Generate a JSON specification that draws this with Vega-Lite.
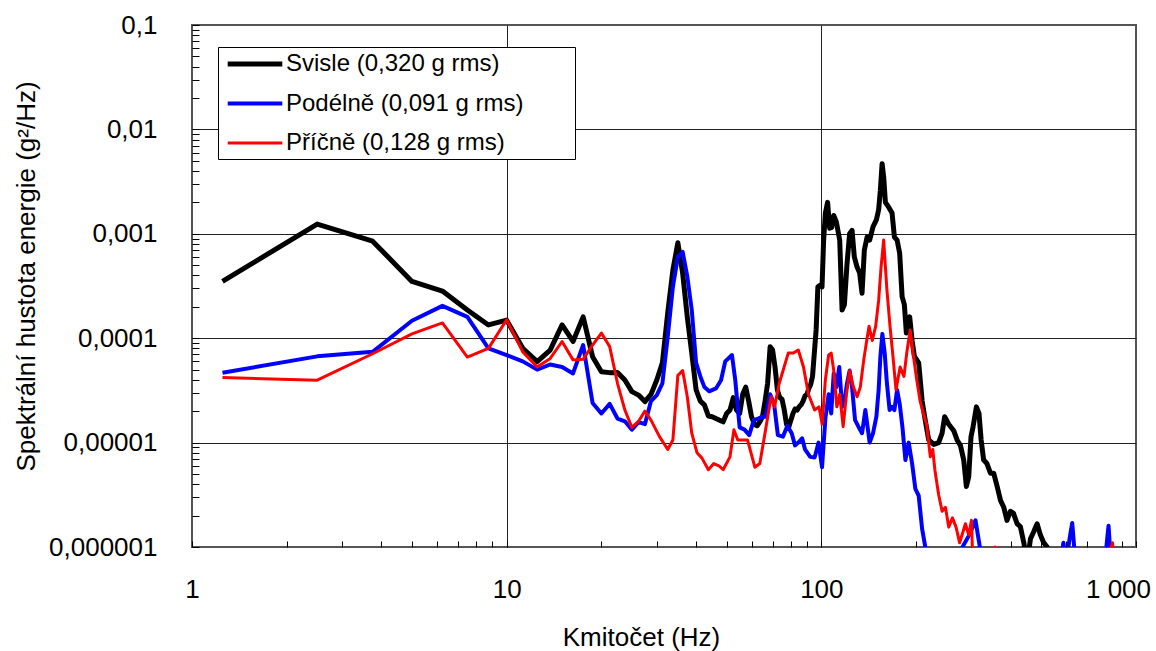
{
"$schema": "https://vega.github.io/schema/vega-lite/v6.json",
"width": 944, "height": 522,
"autosize": {"type": "none"},
"padding": {"left": 192, "top": 25, "right": 20, "bottom": 104},
"background": "white",
"config": {"font": "Liberation Sans", "view": {"stroke": "#555", "strokeWidth": 2}},
"data": {"values": [
{"s":"Svisle (0,320 g rms)","f":1.25,"v":3.5e-4},{"s":"Svisle (0,320 g rms)","f":2.5,"v":1.24e-3},{"s":"Svisle (0,320 g rms)","f":3.75,"v":8.5e-4},{"s":"Svisle (0,320 g rms)","f":5,"v":3.5e-4},{"s":"Svisle (0,320 g rms)","f":6.25,"v":2.83e-4},{"s":"Svisle (0,320 g rms)","f":7.5,"v":1.86e-4},{"s":"Svisle (0,320 g rms)","f":8.75,"v":1.34e-4},{"s":"Svisle (0,320 g rms)","f":10,"v":1.49e-4},{"s":"Svisle (0,320 g rms)","f":11.25,"v":8.0e-5},{"s":"Svisle (0,320 g rms)","f":12.5,"v":5.96e-5},{"s":"Svisle (0,320 g rms)","f":13.75,"v":7.7e-5},{"s":"Svisle (0,320 g rms)","f":15,"v":1.34e-4},{"s":"Svisle (0,320 g rms)","f":16.25,"v":9.3e-5},{"s":"Svisle (0,320 g rms)","f":17.5,"v":1.6e-4},{"s":"Svisle (0,320 g rms)","f":18.75,"v":6.65e-5},{"s":"Svisle (0,320 g rms)","f":20,"v":4.78e-5},{"s":"Svisle (0,320 g rms)","f":21.25,"v":4.68e-5},{"s":"Svisle (0,320 g rms)","f":22.5,"v":4.7e-5},{"s":"Svisle (0,320 g rms)","f":23.75,"v":3.98e-5},{"s":"Svisle (0,320 g rms)","f":25,"v":3.08e-5},{"s":"Svisle (0,320 g rms)","f":26.25,"v":2.85e-5},{"s":"Svisle (0,320 g rms)","f":27.5,"v":2.47e-5},{"s":"Svisle (0,320 g rms)","f":28.75,"v":2.9e-5},{"s":"Svisle (0,320 g rms)","f":30,"v":3.98e-5},{"s":"Svisle (0,320 g rms)","f":31.25,"v":5.8e-5},{"s":"Svisle (0,320 g rms)","f":32.5,"v":1.75e-4},{"s":"Svisle (0,320 g rms)","f":33.75,"v":4.5e-4},{"s":"Svisle (0,320 g rms)","f":35,"v":8.2e-4},{"s":"Svisle (0,320 g rms)","f":36.25,"v":4.2e-4},{"s":"Svisle (0,320 g rms)","f":37.5,"v":1.6e-4},{"s":"Svisle (0,320 g rms)","f":38.75,"v":7.2e-5},{"s":"Svisle (0,320 g rms)","f":40,"v":3.2e-5},{"s":"Svisle (0,320 g rms)","f":41.25,"v":2.5e-5},{"s":"Svisle (0,320 g rms)","f":42.5,"v":2.3e-5},{"s":"Svisle (0,320 g rms)","f":43.75,"v":1.8e-5},{"s":"Svisle (0,320 g rms)","f":45,"v":1.77e-5},{"s":"Svisle (0,320 g rms)","f":46.25,"v":1.7e-5},{"s":"Svisle (0,320 g rms)","f":47.5,"v":1.64e-5},{"s":"Svisle (0,320 g rms)","f":48.75,"v":1.58e-5},{"s":"Svisle (0,320 g rms)","f":50,"v":1.9e-5},{"s":"Svisle (0,320 g rms)","f":51.25,"v":2.05e-5},{"s":"Svisle (0,320 g rms)","f":52.5,"v":2.7e-5},{"s":"Svisle (0,320 g rms)","f":53.75,"v":2.05e-5},{"s":"Svisle (0,320 g rms)","f":55,"v":1.9e-5},{"s":"Svisle (0,320 g rms)","f":56.25,"v":2.9e-5},{"s":"Svisle (0,320 g rms)","f":57.5,"v":3.4e-5},{"s":"Svisle (0,320 g rms)","f":58.75,"v":2.5e-5},{"s":"Svisle (0,320 g rms)","f":60,"v":1.77e-5},{"s":"Svisle (0,320 g rms)","f":61.25,"v":1.5e-5},{"s":"Svisle (0,320 g rms)","f":62.5,"v":1.45e-5},{"s":"Svisle (0,320 g rms)","f":63.75,"v":1.58e-5},{"s":"Svisle (0,320 g rms)","f":65,"v":1.77e-5},{"s":"Svisle (0,320 g rms)","f":66.25,"v":2.5e-5},{"s":"Svisle (0,320 g rms)","f":67.5,"v":3.7e-5},{"s":"Svisle (0,320 g rms)","f":68.75,"v":8.3e-5},{"s":"Svisle (0,320 g rms)","f":70,"v":7.7e-5},{"s":"Svisle (0,320 g rms)","f":71.25,"v":5.3e-5},{"s":"Svisle (0,320 g rms)","f":72.5,"v":3.2e-5},{"s":"Svisle (0,320 g rms)","f":73.75,"v":2.7e-5},{"s":"Svisle (0,320 g rms)","f":75,"v":2.6e-5},{"s":"Svisle (0,320 g rms)","f":76.25,"v":2.05e-5},{"s":"Svisle (0,320 g rms)","f":77.5,"v":1.5e-5},{"s":"Svisle (0,320 g rms)","f":78.75,"v":1.4e-5},{"s":"Svisle (0,320 g rms)","f":80,"v":1.64e-5},{"s":"Svisle (0,320 g rms)","f":81.25,"v":1.9e-5},{"s":"Svisle (0,320 g rms)","f":82.5,"v":2.1e-5},{"s":"Svisle (0,320 g rms)","f":83.75,"v":2.05e-5},{"s":"Svisle (0,320 g rms)","f":85,"v":2.2e-5},{"s":"Svisle (0,320 g rms)","f":86.25,"v":2.3e-5},{"s":"Svisle (0,320 g rms)","f":87.5,"v":2.5e-5},{"s":"Svisle (0,320 g rms)","f":88.75,"v":2.8e-5},{"s":"Svisle (0,320 g rms)","f":90,"v":2.9e-5},{"s":"Svisle (0,320 g rms)","f":91.25,"v":3.3e-5},{"s":"Svisle (0,320 g rms)","f":92.5,"v":3.6e-5},{"s":"Svisle (0,320 g rms)","f":93.75,"v":4.3e-5},{"s":"Svisle (0,320 g rms)","f":95,"v":7.2e-5},{"s":"Svisle (0,320 g rms)","f":96.25,"v":1.2e-4},{"s":"Svisle (0,320 g rms)","f":97.5,"v":3.1e-4},{"s":"Svisle (0,320 g rms)","f":98.75,"v":3.2e-4},{"s":"Svisle (0,320 g rms)","f":100.5,"v":3.1e-4},{"s":"Svisle (0,320 g rms)","f":101.7,"v":8.7e-4},{"s":"Svisle (0,320 g rms)","f":103,"v":1.58e-3},{"s":"Svisle (0,320 g rms)","f":104.7,"v":2.0e-3},{"s":"Svisle (0,320 g rms)","f":106.3,"v":1.13e-3},{"s":"Svisle (0,320 g rms)","f":107.9,"v":1.15e-3},{"s":"Svisle (0,320 g rms)","f":109.5,"v":1.5e-3},{"s":"Svisle (0,320 g rms)","f":111.6,"v":1.3e-3},{"s":"Svisle (0,320 g rms)","f":114.4,"v":8.7e-4},{"s":"Svisle (0,320 g rms)","f":116.4,"v":1.86e-4},{"s":"Svisle (0,320 g rms)","f":118.4,"v":2.1e-4},{"s":"Svisle (0,320 g rms)","f":120.7,"v":5.2e-4},{"s":"Svisle (0,320 g rms)","f":123,"v":1.0e-3},{"s":"Svisle (0,320 g rms)","f":125.2,"v":1.08e-3},{"s":"Svisle (0,320 g rms)","f":127.3,"v":6.0e-4},{"s":"Svisle (0,320 g rms)","f":129.9,"v":4.8e-4},{"s":"Svisle (0,320 g rms)","f":132.4,"v":4.2e-4},{"s":"Svisle (0,320 g rms)","f":134.7,"v":2.7e-4},{"s":"Svisle (0,320 g rms)","f":137,"v":7.0e-4},{"s":"Svisle (0,320 g rms)","f":139.8,"v":9.3e-4},{"s":"Svisle (0,320 g rms)","f":142.4,"v":8.7e-4},{"s":"Svisle (0,320 g rms)","f":146,"v":1.17e-3},{"s":"Svisle (0,320 g rms)","f":149.6,"v":1.36e-3},{"s":"Svisle (0,320 g rms)","f":152.1,"v":1.7e-3},{"s":"Svisle (0,320 g rms)","f":154,"v":2.6e-3},{"s":"Svisle (0,320 g rms)","f":156,"v":4.7e-3},{"s":"Svisle (0,320 g rms)","f":157.8,"v":3.5e-3},{"s":"Svisle (0,320 g rms)","f":159.8,"v":2.0e-3},{"s":"Svisle (0,320 g rms)","f":163.7,"v":1.8e-3},{"s":"Svisle (0,320 g rms)","f":167.8,"v":1.58e-3},{"s":"Svisle (0,320 g rms)","f":170.7,"v":9.3e-4},{"s":"Svisle (0,320 g rms)","f":174.1,"v":8.7e-4},{"s":"Svisle (0,320 g rms)","f":177.4,"v":6.5e-4},{"s":"Svisle (0,320 g rms)","f":180.6,"v":2.5e-4},{"s":"Svisle (0,320 g rms)","f":183.6,"v":2.1e-4},{"s":"Svisle (0,320 g rms)","f":186.3,"v":1.12e-4},{"s":"Svisle (0,320 g rms)","f":190.9,"v":1.6e-4},{"s":"Svisle (0,320 g rms)","f":194.3,"v":9.5e-5},{"s":"Svisle (0,320 g rms)","f":197.6,"v":6.7e-5},{"s":"Svisle (0,320 g rms)","f":203.9,"v":5.8e-5},{"s":"Svisle (0,320 g rms)","f":209.1,"v":2.5e-5},{"s":"Svisle (0,320 g rms)","f":214.2,"v":1.6e-5},{"s":"Svisle (0,320 g rms)","f":219.4,"v":1.06e-5},{"s":"Svisle (0,320 g rms)","f":227.6,"v":9.6e-6},{"s":"Svisle (0,320 g rms)","f":236,"v":1.0e-5},{"s":"Svisle (0,320 g rms)","f":242,"v":1.23e-5},{"s":"Svisle (0,320 g rms)","f":246.6,"v":1.77e-5},{"s":"Svisle (0,320 g rms)","f":254,"v":1.5e-5},{"s":"Svisle (0,320 g rms)","f":263.5,"v":1.3e-5},{"s":"Svisle (0,320 g rms)","f":270,"v":1.06e-5},{"s":"Svisle (0,320 g rms)","f":276.7,"v":9.4e-6},{"s":"Svisle (0,320 g rms)","f":283.5,"v":6.8e-6},{"s":"Svisle (0,320 g rms)","f":289,"v":3.8e-6},{"s":"Svisle (0,320 g rms)","f":294,"v":4.7e-6},{"s":"Svisle (0,320 g rms)","f":299,"v":1.14e-5},{"s":"Svisle (0,320 g rms)","f":303.6,"v":1.42e-5},{"s":"Svisle (0,320 g rms)","f":311,"v":2.2e-5},{"s":"Svisle (0,320 g rms)","f":317,"v":1.9e-5},{"s":"Svisle (0,320 g rms)","f":322,"v":1.06e-5},{"s":"Svisle (0,320 g rms)","f":328,"v":6.8e-6},{"s":"Svisle (0,320 g rms)","f":336,"v":6.3e-6},{"s":"Svisle (0,320 g rms)","f":344.7,"v":5.1e-6},{"s":"Svisle (0,320 g rms)","f":353,"v":5.1e-6},{"s":"Svisle (0,320 g rms)","f":362,"v":3.8e-6},{"s":"Svisle (0,320 g rms)","f":371,"v":2.8e-6},{"s":"Svisle (0,320 g rms)","f":380,"v":2.4e-6},{"s":"Svisle (0,320 g rms)","f":389,"v":1.8e-6},{"s":"Svisle (0,320 g rms)","f":399,"v":2.2e-6},{"s":"Svisle (0,320 g rms)","f":408,"v":2.1e-6},{"s":"Svisle (0,320 g rms)","f":419,"v":1.67e-6},{"s":"Svisle (0,320 g rms)","f":429,"v":1.57e-6},{"s":"Svisle (0,320 g rms)","f":440,"v":1.1e-6},{"s":"Svisle (0,320 g rms)","f":451,"v":7e-7},{"s":"Svisle (0,320 g rms)","f":462,"v":1.2e-6},{"s":"Svisle (0,320 g rms)","f":473,"v":1.4e-6},{"s":"Svisle (0,320 g rms)","f":485,"v":1.67e-6},{"s":"Svisle (0,320 g rms)","f":497,"v":1.3e-6},{"s":"Svisle (0,320 g rms)","f":509,"v":1.1e-6},{"s":"Svisle (0,320 g rms)","f":522,"v":1.0e-6},{"s":"Svisle (0,320 g rms)","f":535,"v":7e-7},{"s":"Svisle (0,320 g rms)","f":560,"v":6e-7},{"s":"Svisle (0,320 g rms)","f":600,"v":8e-7},{"s":"Svisle (0,320 g rms)","f":640,"v":7e-7},{"s":"Svisle (0,320 g rms)","f":700,"v":5e-7},{"s":"Svisle (0,320 g rms)","f":850,"v":5e-7},
{"s":"Podélně (0,091 g rms)","f":1.25,"v":4.67e-5},{"s":"Podélně (0,091 g rms)","f":2.5,"v":6.7e-5},{"s":"Podélně (0,091 g rms)","f":3.75,"v":7.4e-5},{"s":"Podélně (0,091 g rms)","f":5,"v":1.47e-4},{"s":"Podélně (0,091 g rms)","f":6.25,"v":2.04e-4},{"s":"Podélně (0,091 g rms)","f":7.5,"v":1.6e-4},{"s":"Podélně (0,091 g rms)","f":8.75,"v":8.0e-5},{"s":"Podélně (0,091 g rms)","f":10,"v":6.9e-5},{"s":"Podélně (0,091 g rms)","f":11.25,"v":6.0e-5},{"s":"Podélně (0,091 g rms)","f":12.5,"v":5.0e-5},{"s":"Podélně (0,091 g rms)","f":13.75,"v":5.6e-5},{"s":"Podélně (0,091 g rms)","f":15,"v":5.3e-5},{"s":"Podélně (0,091 g rms)","f":16.25,"v":4.6e-5},{"s":"Podélně (0,091 g rms)","f":17.5,"v":8.6e-5},{"s":"Podélně (0,091 g rms)","f":18.75,"v":2.4e-5},{"s":"Podélně (0,091 g rms)","f":20,"v":1.9e-5},{"s":"Podélně (0,091 g rms)","f":21.25,"v":2.35e-5},{"s":"Podélně (0,091 g rms)","f":22.5,"v":1.7e-5},{"s":"Podélně (0,091 g rms)","f":23.75,"v":1.6e-5},{"s":"Podélně (0,091 g rms)","f":25,"v":1.33e-5},{"s":"Podélně (0,091 g rms)","f":26.25,"v":1.57e-5},{"s":"Podélně (0,091 g rms)","f":27.5,"v":1.5e-5},{"s":"Podélně (0,091 g rms)","f":28.75,"v":2.5e-5},{"s":"Podélně (0,091 g rms)","f":30,"v":2.85e-5},{"s":"Podélně (0,091 g rms)","f":31.25,"v":3.7e-5},{"s":"Podélně (0,091 g rms)","f":32.5,"v":1.03e-4},{"s":"Podélně (0,091 g rms)","f":33.75,"v":3.1e-4},{"s":"Podélně (0,091 g rms)","f":35,"v":6.0e-4},{"s":"Podélně (0,091 g rms)","f":36.25,"v":6.7e-4},{"s":"Podélně (0,091 g rms)","f":37.5,"v":3.9e-4},{"s":"Podélně (0,091 g rms)","f":38.75,"v":1.86e-4},{"s":"Podélně (0,091 g rms)","f":40,"v":5.8e-5},{"s":"Podélně (0,091 g rms)","f":41.25,"v":4.3e-5},{"s":"Podélně (0,091 g rms)","f":42.5,"v":3.4e-5},{"s":"Podélně (0,091 g rms)","f":44,"v":3.1e-5},{"s":"Podélně (0,091 g rms)","f":46.25,"v":3.3e-5},{"s":"Podélně (0,091 g rms)","f":48,"v":3.96e-5},{"s":"Podélně (0,091 g rms)","f":49.5,"v":6.0e-5},{"s":"Podélně (0,091 g rms)","f":52,"v":6.9e-5},{"s":"Podélně (0,091 g rms)","f":53.25,"v":4.0e-5},{"s":"Podélně (0,091 g rms)","f":55,"v":1.4e-5},{"s":"Podélně (0,091 g rms)","f":57,"v":1.33e-5},{"s":"Podélně (0,091 g rms)","f":59,"v":1.18e-5},{"s":"Podélně (0,091 g rms)","f":61,"v":1.64e-5},{"s":"Podélně (0,091 g rms)","f":63,"v":1.7e-5},{"s":"Podélně (0,091 g rms)","f":65,"v":1.77e-5},{"s":"Podélně (0,091 g rms)","f":66.5,"v":1.77e-5},{"s":"Podélně (0,091 g rms)","f":68.75,"v":2.9e-5},{"s":"Podélně (0,091 g rms)","f":70.75,"v":2.35e-5},{"s":"Podélně (0,091 g rms)","f":72.75,"v":1.18e-5},{"s":"Podélně (0,091 g rms)","f":75.5,"v":1.14e-5},{"s":"Podélně (0,091 g rms)","f":78,"v":1.45e-5},{"s":"Podélně (0,091 g rms)","f":80.5,"v":1.23e-5},{"s":"Podélně (0,091 g rms)","f":82.5,"v":9.4e-6},{"s":"Podélně (0,091 g rms)","f":84.5,"v":1.0e-5},{"s":"Podélně (0,091 g rms)","f":86.9,"v":1.1e-5},{"s":"Podélně (0,091 g rms)","f":88.75,"v":8.6e-6},{"s":"Podélně (0,091 g rms)","f":92.2,"v":7.3e-6},{"s":"Podélně (0,091 g rms)","f":95.2,"v":7.2e-6},{"s":"Podélně (0,091 g rms)","f":98,"v":1.0e-5},{"s":"Podélně (0,091 g rms)","f":100.5,"v":5.8e-6},{"s":"Podélně (0,091 g rms)","f":103,"v":1.7e-5},{"s":"Podélně (0,091 g rms)","f":105.5,"v":2.9e-5},{"s":"Podélně (0,091 g rms)","f":107.5,"v":1.9e-5},{"s":"Podélně (0,091 g rms)","f":109.5,"v":4.6e-5},{"s":"Podélně (0,091 g rms)","f":111.6,"v":3.4e-5},{"s":"Podélně (0,091 g rms)","f":114,"v":5.3e-5},{"s":"Podélně (0,091 g rms)","f":116.4,"v":2.2e-5},{"s":"Podélně (0,091 g rms)","f":118.4,"v":2.5e-5},{"s":"Podélně (0,091 g rms)","f":120.7,"v":3.7e-5},{"s":"Podélně (0,091 g rms)","f":123,"v":4.9e-5},{"s":"Podélně (0,091 g rms)","f":125.2,"v":3.4e-5},{"s":"Podélně (0,091 g rms)","f":128,"v":1.64e-5},{"s":"Podélně (0,091 g rms)","f":131.2,"v":1.42e-5},{"s":"Podélně (0,091 g rms)","f":134.7,"v":1.23e-5},{"s":"Podélně (0,091 g rms)","f":138,"v":2.05e-5},{"s":"Podélně (0,091 g rms)","f":142.4,"v":1.0e-5},{"s":"Podélně (0,091 g rms)","f":146,"v":1.23e-5},{"s":"Podélně (0,091 g rms)","f":149.6,"v":1.77e-5},{"s":"Podélně (0,091 g rms)","f":152.1,"v":3.2e-5},{"s":"Podélně (0,091 g rms)","f":154,"v":6.6e-5},{"s":"Podélně (0,091 g rms)","f":156.3,"v":1.1e-4},{"s":"Podélně (0,091 g rms)","f":159,"v":7.2e-5},{"s":"Podélně (0,091 g rms)","f":161.6,"v":3.7e-5},{"s":"Podélně (0,091 g rms)","f":164.8,"v":2.05e-5},{"s":"Podélně (0,091 g rms)","f":167.8,"v":2.2e-5},{"s":"Podélně (0,091 g rms)","f":170.7,"v":2.05e-5},{"s":"Podélně (0,091 g rms)","f":174.1,"v":3.2e-5},{"s":"Podélně (0,091 g rms)","f":177.4,"v":2.35e-5},{"s":"Podélně (0,091 g rms)","f":181,"v":1.42e-5},{"s":"Podélně (0,091 g rms)","f":185,"v":6.8e-6},{"s":"Podélně (0,091 g rms)","f":189.5,"v":1.0e-5},{"s":"Podélně (0,091 g rms)","f":194.3,"v":6.3e-6},{"s":"Podélně (0,091 g rms)","f":199,"v":3.6e-6},{"s":"Podélně (0,091 g rms)","f":203.9,"v":3.1e-6},{"s":"Podélně (0,091 g rms)","f":209,"v":1.5e-6},{"s":"Podélně (0,091 g rms)","f":214,"v":1.0e-6},{"s":"Podélně (0,091 g rms)","f":219,"v":7e-7},{"s":"Podélně (0,091 g rms)","f":225,"v":9.5e-7},{"s":"Podélně (0,091 g rms)","f":232,"v":6e-7},{"s":"Podélně (0,091 g rms)","f":240,"v":9e-7},{"s":"Podélně (0,091 g rms)","f":250,"v":5e-7},{"s":"Podélně (0,091 g rms)","f":270,"v":7e-7},{"s":"Podélně (0,091 g rms)","f":281,"v":1.0e-6},{"s":"Podélně (0,091 g rms)","f":295,"v":1.3e-6},{"s":"Podélně (0,091 g rms)","f":309,"v":1.8e-6},{"s":"Podélně (0,091 g rms)","f":319,"v":1.0e-6},{"s":"Podélně (0,091 g rms)","f":330,"v":6e-7},{"s":"Podélně (0,091 g rms)","f":360,"v":5e-7},{"s":"Podélně (0,091 g rms)","f":400,"v":6e-7},{"s":"Podélně (0,091 g rms)","f":450,"v":5e-7},{"s":"Podélně (0,091 g rms)","f":520,"v":5e-7},{"s":"Podélně (0,091 g rms)","f":570,"v":6e-7},{"s":"Podélně (0,091 g rms)","f":588,"v":1.1e-6},{"s":"Podélně (0,091 g rms)","f":600,"v":7e-7},{"s":"Podélně (0,091 g rms)","f":615,"v":1.2e-6},{"s":"Podélně (0,091 g rms)","f":627,"v":1.7e-6},{"s":"Podélně (0,091 g rms)","f":640,"v":8e-7},{"s":"Podélně (0,091 g rms)","f":700,"v":5e-7},{"s":"Podélně (0,091 g rms)","f":780,"v":5e-7},{"s":"Podélně (0,091 g rms)","f":805,"v":1.0e-6},{"s":"Podélně (0,091 g rms)","f":818,"v":1.6e-6},{"s":"Podélně (0,091 g rms)","f":830,"v":8e-7},{"s":"Podélně (0,091 g rms)","f":900,"v":5e-7},
{"s":"Příčně (0,128 g rms)","f":1.25,"v":4.2e-5},{"s":"Příčně (0,128 g rms)","f":2.5,"v":3.96e-5},{"s":"Příčně (0,128 g rms)","f":3.75,"v":7.1e-5},{"s":"Příčně (0,128 g rms)","f":5,"v":1.1e-4},{"s":"Příčně (0,128 g rms)","f":6.25,"v":1.4e-4},{"s":"Příčně (0,128 g rms)","f":7.5,"v":6.6e-5},{"s":"Příčně (0,128 g rms)","f":8.75,"v":8.0e-5},{"s":"Příčně (0,128 g rms)","f":10,"v":1.5e-4},{"s":"Příčně (0,128 g rms)","f":11.25,"v":7.4e-5},{"s":"Příčně (0,128 g rms)","f":12.5,"v":5.3e-5},{"s":"Příčně (0,128 g rms)","f":13.75,"v":6.4e-5},{"s":"Příčně (0,128 g rms)","f":15,"v":9.3e-5},{"s":"Příčně (0,128 g rms)","f":16.25,"v":6.2e-5},{"s":"Příčně (0,128 g rms)","f":17.5,"v":6.3e-5},{"s":"Příčně (0,128 g rms)","f":18.75,"v":8.6e-5},{"s":"Příčně (0,128 g rms)","f":20,"v":1.12e-4},{"s":"Příčně (0,128 g rms)","f":21.25,"v":8.3e-5},{"s":"Příčně (0,128 g rms)","f":22.5,"v":3.7e-5},{"s":"Příčně (0,128 g rms)","f":23.75,"v":2.05e-5},{"s":"Příčně (0,128 g rms)","f":25,"v":1.4e-5},{"s":"Příčně (0,128 g rms)","f":26.25,"v":1.6e-5},{"s":"Příčně (0,128 g rms)","f":27.5,"v":2.0e-5},{"s":"Příčně (0,128 g rms)","f":28.75,"v":1.64e-5},{"s":"Příčně (0,128 g rms)","f":30.6,"v":1.14e-5},{"s":"Příčně (0,128 g rms)","f":32.5,"v":8.6e-6},{"s":"Příčně (0,128 g rms)","f":33.75,"v":1.06e-5},{"s":"Příčně (0,128 g rms)","f":35,"v":4.4e-5},{"s":"Příčně (0,128 g rms)","f":36.25,"v":4.9e-5},{"s":"Příčně (0,128 g rms)","f":37.5,"v":2.75e-5},{"s":"Příčně (0,128 g rms)","f":38.75,"v":1.23e-5},{"s":"Příčně (0,128 g rms)","f":40.25,"v":8.0e-6},{"s":"Příčně (0,128 g rms)","f":41.75,"v":7.1e-6},{"s":"Příčně (0,128 g rms)","f":43.75,"v":5.5e-6},{"s":"Příčně (0,128 g rms)","f":45.5,"v":6.3e-6},{"s":"Příčně (0,128 g rms)","f":47.25,"v":6.0e-6},{"s":"Příčně (0,128 g rms)","f":48.75,"v":5.5e-6},{"s":"Příčně (0,128 g rms)","f":51.25,"v":7.3e-6},{"s":"Příčně (0,128 g rms)","f":52.75,"v":1.33e-5},{"s":"Příčně (0,128 g rms)","f":54.25,"v":1.06e-5},{"s":"Příčně (0,128 g rms)","f":58.25,"v":1.06e-5},{"s":"Příčně (0,128 g rms)","f":61.5,"v":5.8e-6},{"s":"Příčně (0,128 g rms)","f":63.75,"v":6.3e-6},{"s":"Příčně (0,128 g rms)","f":66.5,"v":1.33e-5},{"s":"Příčně (0,128 g rms)","f":69.25,"v":2.75e-5},{"s":"Příčně (0,128 g rms)","f":71,"v":2.2e-5},{"s":"Příčně (0,128 g rms)","f":73.5,"v":3.7e-5},{"s":"Příčně (0,128 g rms)","f":78.5,"v":7.2e-5},{"s":"Příčně (0,128 g rms)","f":81.5,"v":7.2e-5},{"s":"Příčně (0,128 g rms)","f":84.5,"v":7.7e-5},{"s":"Příčně (0,128 g rms)","f":87.75,"v":5.3e-5},{"s":"Příčně (0,128 g rms)","f":91,"v":2.9e-5},{"s":"Příčně (0,128 g rms)","f":95.2,"v":2.05e-5},{"s":"Příčně (0,128 g rms)","f":98.3,"v":2.2e-5},{"s":"Příčně (0,128 g rms)","f":100.6,"v":1.5e-5},{"s":"Příčně (0,128 g rms)","f":103,"v":4.0e-5},{"s":"Příčně (0,128 g rms)","f":105.5,"v":6.9e-5},{"s":"Příčně (0,128 g rms)","f":107.5,"v":7.2e-5},{"s":"Příčně (0,128 g rms)","f":109.5,"v":4.9e-5},{"s":"Příčně (0,128 g rms)","f":112,"v":2.2e-5},{"s":"Příčně (0,128 g rms)","f":114.4,"v":2.9e-5},{"s":"Příčně (0,128 g rms)","f":117.3,"v":1.42e-5},{"s":"Příčně (0,128 g rms)","f":120.2,"v":2.9e-5},{"s":"Příčně (0,128 g rms)","f":123,"v":4.9e-5},{"s":"Příčně (0,128 g rms)","f":126.5,"v":3.4e-5},{"s":"Příčně (0,128 g rms)","f":129.9,"v":2.75e-5},{"s":"Příčně (0,128 g rms)","f":133,"v":3.4e-5},{"s":"Příčně (0,128 g rms)","f":136.4,"v":6.2e-5},{"s":"Příčně (0,128 g rms)","f":139.4,"v":9.5e-5},{"s":"Příčně (0,128 g rms)","f":141.8,"v":1.3e-4},{"s":"Příčně (0,128 g rms)","f":145.2,"v":9.5e-5},{"s":"Příčně (0,128 g rms)","f":148.8,"v":1.3e-4},{"s":"Příčně (0,128 g rms)","f":152.1,"v":2.3e-4},{"s":"Příčně (0,128 g rms)","f":154.8,"v":4.8e-4},{"s":"Příčně (0,128 g rms)","f":157.8,"v":8.7e-4},{"s":"Příčně (0,128 g rms)","f":161.6,"v":2.9e-4},{"s":"Příčně (0,128 g rms)","f":165.3,"v":1.3e-4},{"s":"Příčně (0,128 g rms)","f":169,"v":6.6e-5},{"s":"Příčně (0,128 g rms)","f":172.7,"v":3.2e-5},{"s":"Příčně (0,128 g rms)","f":178,"v":5.3e-5},{"s":"Příčně (0,128 g rms)","f":183,"v":4.3e-5},{"s":"Příčně (0,128 g rms)","f":186.8,"v":7.2e-5},{"s":"Příčně (0,128 g rms)","f":191.6,"v":1.2e-4},{"s":"Příčně (0,128 g rms)","f":196.4,"v":6.6e-5},{"s":"Příčně (0,128 g rms)","f":201,"v":4.0e-5},{"s":"Příčně (0,128 g rms)","f":206,"v":2.5e-5},{"s":"Příčně (0,128 g rms)","f":211,"v":1.9e-5},{"s":"Příčně (0,128 g rms)","f":216,"v":1.5e-5},{"s":"Příčně (0,128 g rms)","f":222,"v":7.3e-6},{"s":"Příčně (0,128 g rms)","f":226,"v":8.6e-6},{"s":"Příčně (0,128 g rms)","f":229.5,"v":5.5e-6},{"s":"Příčně (0,128 g rms)","f":235.8,"v":3.2e-6},{"s":"Příčně (0,128 g rms)","f":242,"v":2.2e-6},{"s":"Příčně (0,128 g rms)","f":248,"v":2.4e-6},{"s":"Příčně (0,128 g rms)","f":254,"v":1.55e-6},{"s":"Příčně (0,128 g rms)","f":261,"v":1.9e-6},{"s":"Příčně (0,128 g rms)","f":268,"v":1.55e-6},{"s":"Příčně (0,128 g rms)","f":275,"v":1.1e-6},{"s":"Příčně (0,128 g rms)","f":282,"v":1.4e-6},{"s":"Příčně (0,128 g rms)","f":287,"v":1.67e-6},{"s":"Příčně (0,128 g rms)","f":294,"v":1.3e-6},{"s":"Příčně (0,128 g rms)","f":300,"v":1.8e-6},{"s":"Příčně (0,128 g rms)","f":303,"v":7e-7},{"s":"Příčně (0,128 g rms)","f":320,"v":6e-7},{"s":"Příčně (0,128 g rms)","f":345,"v":8e-7},{"s":"Příčně (0,128 g rms)","f":357,"v":1.0e-6},{"s":"Příčně (0,128 g rms)","f":370,"v":6e-7},{"s":"Příčně (0,128 g rms)","f":450,"v":5e-7},{"s":"Příčně (0,128 g rms)","f":600,"v":5e-7},{"s":"Příčně (0,128 g rms)","f":800,"v":6e-7},{"s":"Příčně (0,128 g rms)","f":842,"v":1.1e-6},{"s":"Příčně (0,128 g rms)","f":860,"v":6e-7},{"s":"Příčně (0,128 g rms)","f":950,"v":5e-7}
]},
"encoding": {
  "x": {"field": "f", "type": "quantitative",
    "scale": {"type": "log", "domain": [1, 1000], "nice": false},
    "axis": {"title": "Kmitočet (Hz)",
      "values": [1,2,3,4,5,6,7,8,9,10,20,30,40,50,60,70,80,90,100,200,300,400,500,600,700,800,900,1000],
      "labelExpr": "datum.value == 1000 ? '1 000' : ((datum.value == 1 || datum.value == 10 || datum.value == 100) ? format(datum.value, 'd') : '')",
      "labelFontSize": 26, "labelFontWeight": "normal", "labelColor": "black", "labelPadding": 35, "labelFlush": false, "labelOverlap": false, "labelBound": false,
      "labelOffset": {"condition": {"test": "datum.value == 1000", "value": -18}, "value": 0},
      "tickSize": -6, "tickColor": "black", "tickWidth": 1,
      "grid": true, "gridColor": "#222", "gridWidth": 1,
      "gridOpacity": {"condition": {"test": "datum.value == 10 || datum.value == 100", "value": 1}, "value": 0},
      "domain": false,
      "titleFontSize": 26, "titleFontWeight": "normal", "titleColor": "black", "titlePadding": 22, "titleX": 449}},
  "y": {"field": "v", "type": "quantitative",
    "scale": {"type": "log", "domain": [0.000001, 0.1], "nice": false},
    "axis": {"title": "Spektrální hustota energie (g²/Hz)",
      "values": [0.000001,0.000002,0.000003,0.000004,0.000005,0.000006,0.000007,0.000008,0.000009,0.00001,0.00002,0.00003,0.00004,0.00005,0.00006,0.00007,0.00008,0.00009,0.0001,0.0002,0.0003,0.0004,0.0005,0.0006,0.0007,0.0008,0.0009,0.001,0.002,0.003,0.004,0.005,0.006,0.007,0.008,0.009,0.01,0.02,0.03,0.04,0.05,0.06,0.07,0.08,0.09,0.1],
      "labelExpr": "abs(log(datum.value)/LN10 - round(log(datum.value)/LN10)) < 0.000001 ? replace(format(datum.value, '~f'), '.', ',') : ''",
      "labelFontSize": 26, "labelFontWeight": "normal", "labelColor": "black", "labelPadding": 42, "labelFlush": false, "labelOverlap": false, "labelBound": false,
      "tickSize": -7, "tickColor": "black", "tickWidth": 1,
      "grid": true, "gridColor": "#222", "gridWidth": 1,
      "gridOpacity": {"condition": {"test": "abs(log(datum.value)/LN10 - round(log(datum.value)/LN10)) < 0.000001 && datum.value > 0.0000011 && datum.value < 0.09", "value": 1}, "value": 0},
      "domain": false,
      "titleFontSize": 26, "titleFontWeight": "normal", "titleColor": "black", "titlePadding": 9, "titleY": 251}},
  "color": {"field": "s", "type": "nominal",
    "scale": {"domain": ["Svisle (0,320 g rms)", "Podélně (0,091 g rms)", "Příčně (0,128 g rms)"], "range": ["#000000", "#0000ff", "#ff0000"]},
    "legend": {"title": null, "orient": "none", "legendX": 26, "legendY": 22,
      "symbolType": "M-2.6,0H2.6", "symbolSize": 441, "symbolOffset": 20, "labelFontSize": 24, "labelColor": "black", "labelOffset": 18, "labelLimit": 600,
      "rowPadding": 15, "padding": 4, "strokeColor": "black", "fillColor": "white",
      "labelExpr": "datum.label + '\u00a0\u00a0\u00a0\u00a0\u00a0\u00a0\u00a0\u200b'"}},
  "strokeWidth": {"field": "s", "type": "nominal",
    "scale": {"domain": ["Svisle (0,320 g rms)", "Podélně (0,091 g rms)", "Příčně (0,128 g rms)"], "range": [5, 3, 1]},
    "legend": {"title": null, "orient": "none", "legendX": 26, "legendY": 22,
      "symbolType": "M-2.6,0H2.6", "symbolSize": 441, "symbolOffset": 20, "labelFontSize": 24, "labelColor": "black", "labelOffset": 18, "labelLimit": 600,
      "rowPadding": 15, "padding": 4, "strokeColor": "black", "fillColor": "white",
      "labelExpr": "datum.label + '\u00a0\u00a0\u00a0\u00a0\u00a0\u00a0\u00a0\u200b'"}}
},
"layer": [
  {"transform": [{"filter": "datum.s === 'Svisle (0,320 g rms)'"}], "mark": {"type": "line", "clip": true, "strokeJoin": "round"}},
  {"transform": [{"filter": "datum.s === 'Podélně (0,091 g rms)'"}], "mark": {"type": "line", "clip": true, "strokeJoin": "round"}},
  {"transform": [{"filter": "datum.s === 'Příčně (0,128 g rms)'"}], "mark": {"type": "line", "clip": true, "strokeJoin": "round"}}
]
}
